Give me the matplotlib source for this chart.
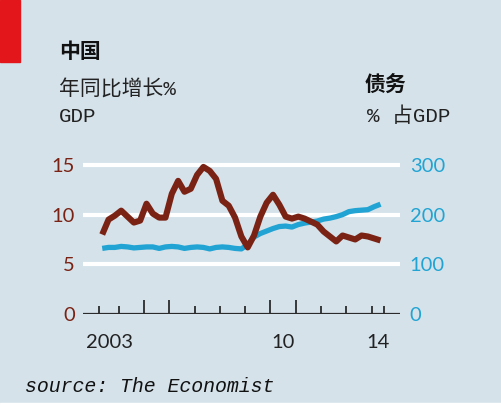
import matplotlib
matplotlib.use("Agg")
import matplotlib.pyplot as plt
from matplotlib.patches import Rectangle
import numpy as np

# quarterly series, 2003 Q2 .. 2014 Q2 (plotted as decimal years)
start_year = 2003.35
gdp_growth = [8.0, 9.5, 9.9, 10.4, 9.8, 9.2, 9.4, 11.1, 10.1, 9.7,
              9.7, 12.1, 13.4, 12.3, 12.6, 14.0, 14.8, 14.4, 13.6, 11.4,
              10.9, 9.7, 7.8, 6.7, 7.9, 9.8, 11.2, 12.0, 11.0, 9.8,
              9.6, 9.8, 9.6, 9.3, 9.0, 8.3, 7.8, 7.3, 7.9, 7.7,
              7.5, 7.9, 7.8, 7.6, 7.4]
debt_pct_gdp = [132, 134, 134, 136, 135, 133, 134, 135, 135, 132,
                135, 136, 135, 132, 134, 135, 134, 131, 134, 135,
                134, 132, 131, 140, 155, 162, 167, 172, 176, 177,
                175, 180, 183, 185, 187, 191, 193, 196, 200, 206,
                208, 209, 210, 216, 221]

left_ticks = [0, 5, 10, 15]
right_ticks = [0, 100, 200, 300]
short_ticks = [2003.22, 2004, 2007, 2008, 2009, 2012, 2013, 2014, 2014.5]
tall_ticks = [2005, 2006, 2010, 2011]
year_labels = ["2003", "10", "14"]
year_label_pos = [2003.62, 2010.49, 2014.25]

bg = "#d5e2ea"
brown = "#7a2315"
blue = "#21a4d3"
cjk = ["Liberation Mono", "Noto Sans CJK SC"]

W, H = 502, 407
fig = plt.figure(figsize=(W / 100, H / 100), dpi=100, facecolor=bg)

def fx(px):
    return px / W

def fy(py):
    return 1 - py / H

# axes: x 83..400 px, y 0 at 314 px, 16 at 155 px
ax2 = fig.add_axes([fx(83), fy(314), fx(400) - fx(83), fy(155) - fy(314)])
ax = ax2.twinx()
ax.set_zorder(ax2.get_zorder() + 1)
ax.patch.set_visible(False)
ax2.patch.set_visible(False)

t = start_year + 0.25 * np.arange(len(gdp_growth))

ax2.plot(t, debt_pct_gdp, color=blue, lw=3.8, solid_capstyle="butt", zorder=3)
ax.plot(t, gdp_growth, color=brown, lw=4.4, solid_capstyle="butt",
        solid_joinstyle="round", zorder=3)

xmin, xmax = 2002.59, 2015.12
ax2.set_xlim(xmin, xmax)
for a in (ax, ax2):
    for s in a.spines.values():
        s.set_visible(False)

# debt axis underneath, carrying the white grid
ax2.set_ylim(0, 320)
ax.set_ylim(0, 16)
for v in right_ticks[1:]:
    ax2.axhline(v, color="white", lw=3, zorder=1)
ax2.axhline(0, color="#2b2b2b", lw=1.6, zorder=4)

# growth labels on the left (placed on ax2), debt labels on the right (ax)
ax2.yaxis.tick_left()
ax2.set_yticks([v * 20 for v in left_ticks])
ax2.set_yticklabels([str(v) for v in left_ticks])
ax.yaxis.tick_right()
ax.set_yticks([v / 20 for v in right_ticks])
ax.set_yticklabels([str(v) for v in right_ticks])

ax2.tick_params(axis="y", length=0, pad=6, labelsize=14.5, labelcolor=brown)
ax.tick_params(axis="y", length=0, pad=7, labelsize=14.5, labelcolor=blue)
for lab in ax2.get_yticklabels() + ax.get_yticklabels():
    lab.set_family("Lato")

ax2.set_xticks(short_ticks)
ax2.set_xticks(tall_ticks, minor=True)
ax2.tick_params(axis="x", which="major", direction="in", length=5.5, width=1.3,
                color="#2b2b2b", labelbottom=False)
ax2.tick_params(axis="x", which="minor", direction="in", length=10, width=1.3,
                color="#2b2b2b", labelbottom=False)

for lab, pos in zip(year_labels, year_label_pos):
    ax2.text(pos, -28 / 159 * 320, lab, ha="center", va="center",
             fontsize=14.5, color="#222222", family="Lato")

# red tab
fig.patches.append(Rectangle((0, fy(62)), fx(20), 62 / H, transform=fig.transFigure,
                             color="#e2161b", zorder=0))
# white strip at bottom
fig.patches.append(Rectangle((0, 0), 1, 4 / H, transform=fig.transFigure,
                             color="white", zorder=0))

fig.text(fx(59), fy(52), "中国", fontsize=15, fontweight="bold",
         family="Noto Sans CJK SC", va="center", ha="left", color="#111111")
fig.text(fx(59), fy(89), "年同比增长%", fontsize=15, family=cjk,
         va="center", ha="left", color="#222222")
fig.text(fx(59), fy(117), "GDP", fontsize=15, family=cjk,
         va="center", ha="left", color="#222222")
fig.text(fx(365), fy(84), "债务", fontsize=15, fontweight="bold",
         family="Noto Sans CJK SC", va="center", ha="left", color="#111111")
fig.text(fx(367), fy(116), "% 占GDP", fontsize=15, family=cjk,
         va="center", ha="left", color="#222222")
fig.text(fx(25), fy(387), "source: The Economist", fontsize=14.3, style="italic",
         family="Liberation Mono", va="center", ha="left", color="#111111")

fig.savefig("out.png", dpi=100, facecolor=bg)
